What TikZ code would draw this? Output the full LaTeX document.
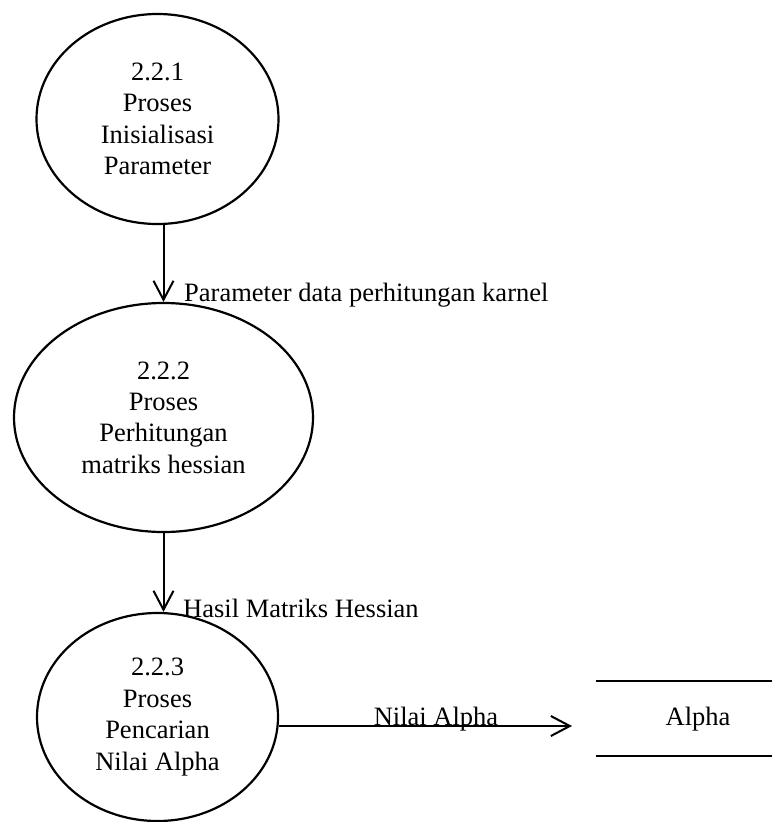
\documentclass[tikz,border=0pt]{standalone}
\usepackage{fontspec}
\setmainfont{Liberation Serif}
\usetikzlibrary{arrows.meta,shapes.geometric}
\begin{document}
\begin{tikzpicture}[x=1pt,y=-1pt,
  txt/.style={font=\fontsize{26.5}{31.4}\selectfont},
  proc/.style={ellipse, draw, line width=2.2pt, inner sep=0pt, align=center, txt},
  flow/.style={line width=2pt, -{Straight Barb[length=19pt,width=20pt]}},
  lbl/.style={txt, inner sep=0pt}]
\useasboundingbox (0,0) rectangle (772,822);

% processes
\node[proc, minimum width=242, minimum height=210] (e1) at (157.5,119)
  {2.2.1\\Proses\\Inisialisasi\\Parameter};
\node[proc, minimum width=299, minimum height=229] (e2) at (163.5,417.5)
  {2.2.2\\Proses\\Perhitungan\\matriks hessian};
\node[proc, minimum width=241, minimum height=208] (e3) at (157.5,717)
  {2.2.3\\Proses\\Pencarian\\Nilai Alpha};

% data store
\node[minimum width=176, minimum height=75, inner sep=0pt] (st) at (684,718.5) {};
\draw[line width=2pt] (st.north west) -- (st.north east)
                      (st.south west) -- (st.south east);
\node[lbl, anchor=base] (stl) at (698,725) {Alpha};

% flows
\draw[flow] (e1.south -| e2.north) -- (e2.north);
\node[lbl, anchor=base west] (l1) at (184,301) {Parameter data perhitungan karnel};

\draw[flow] (e2.south) -- (e2.south |- e3.north);
\node[lbl, anchor=base west] (l2) at (183,617) {Hasil Matriks Hessian};

\coordinate (tip) at (572,726);
\draw[flow] (e3.-4.3 |- tip) -- (tip);
\node[lbl, anchor=base] (l3) at (436,725) {Nilai Alpha};
\end{tikzpicture}
\end{document}
